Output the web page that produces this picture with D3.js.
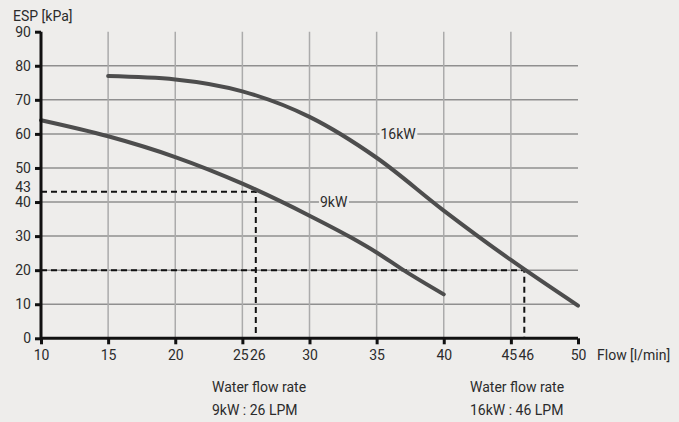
<!DOCTYPE html>
<html>
<head>
<meta charset="utf-8">
<script src="https://cdn.jsdelivr.net/npm/d3@7"></script>
<style>
  html, body { margin: 0; padding: 0; background: #eeedeb; }
  svg { display: block; font-family: Roboto, "Noto Sans", sans-serif; }
</style>
</head>
<body>
<svg id="chart" width="679" height="422"></svg>
<script>
// Pump curves: external static pressure vs. water flow
const flow9kW  = [10, 15, 20, 25, 30, 33, 35, 37, 40];
const esp9kW   = [64, 59.3, 53.2, 45.4, 36, 29.8, 25.2, 20, 12.9];
const flow16kW = [15, 20, 25, 30, 35, 40, 45, 50];
const esp16kW  = [77, 76, 72.5, 65, 53, 37.5, 23, 9.6];

const xTicks = [10, 15, 20, 25, 30, 35, 40, 45, 50];
const yTicks = [0, 10, 20, 30, 40, 50, 60, 70, 80, 90];
const xGrid  = [15, 20, 25, 30, 35, 40, 45];
const yGrid  = [10, 20, 30, 40, 50, 60, 70, 80];

// Rated operating points
const ratedFlow = [26, 46];
const ratedEsp  = [43, 20];
const ratedLabels = ["9kW : 26 LPM", "16kW : 46 LPM"];
const seriesNames = ["9kW", "16kW"];
const seriesLabelAt = [[31.8, 40], [36.6, 60]];

const svg = d3.select("#chart");
const x = d3.scaleLinear().domain([10, 50]).range([41, 578]);
const y = d3.scaleLinear().domain([0, 90]).range([338.3, 31.7]);

const textColor = "#2b2b2b";
const bg = "#eeedeb";

// grid
svg.append("g").selectAll("line").data(yGrid).join("line")
  .attr("x1", x(10)).attr("x2", x(50))
  .attr("y1", d => y(d)).attr("y2", d => y(d))
  .attr("stroke", "#8f8f8f").attr("stroke-width", 1.5);
svg.append("g").selectAll("line").data(xGrid).join("line")
  .attr("x1", d => x(d)).attr("x2", d => x(d))
  .attr("y1", y(0)).attr("y2", y(90))
  .attr("stroke", "#ababab").attr("stroke-width", 1.5);

// dashed guides to rated points
const guides = svg.append("g").attr("stroke", "#111").attr("stroke-width", 2)
  .attr("stroke-dasharray", "6,4").attr("fill", "none");
ratedFlow.forEach((f, i) => {
  guides.append("path")
    .attr("d", `M${x(10)},${y(ratedEsp[i])}H${x(f)}V${y(0)}`);
});

// curves
const line = d3.line().x(d => x(d[0])).y(d => y(d[1])).curve(d3.curveMonotoneX);
const curves = [d3.zip(flow9kW, esp9kW), d3.zip(flow16kW, esp16kW)];
svg.append("g").selectAll("path").data(curves).join("path")
  .attr("d", line).attr("fill", "none")
  .attr("stroke", "#4d4d4d").attr("stroke-width", 4).attr("stroke-linecap", "round");

// series labels on the grid lines
seriesNames.forEach((name, i) => {
  const [fx, fy] = seriesLabelAt[i];
  const t = svg.append("text").attr("x", x(fx)).attr("y", y(fy))
    .attr("dy", "0.36em").attr("text-anchor", "middle")
    .attr("font-size", 14).attr("fill", textColor).text(name);
  const bb = t.node().getBBox();
  svg.insert("rect", "text").attr("x", bb.x - 1).attr("y", y(fy) - 2)
    .attr("width", bb.width + 2).attr("height", 4).attr("fill", bg);
});

// axes
const xAxis = svg.append("g").attr("transform", `translate(0,${y(0)})`)
  .call(d3.axisBottom(x).tickValues(xTicks).tickSize(6).tickPadding(6).tickFormat(d3.format("d")));
const yAxis = svg.append("g").attr("transform", `translate(${x(10)},0)`)
  .call(d3.axisLeft(y).tickValues(yTicks).tickSize(6).tickPadding(4).tickFormat(d3.format("d")));
[xAxis, yAxis].forEach(a => {
  a.select(".domain").attr("stroke", "#111").attr("stroke-width", 3);
  a.selectAll(".tick line").attr("stroke", "#111").attr("stroke-width", 3);
  a.selectAll(".tick text").attr("font-size", 14).attr("fill", textColor)
    .attr("font-family", "Roboto, 'Noto Sans', sans-serif");
});
xAxis.select(".domain").attr("d", `M${x(10)},0H${x(50)}`);
yAxis.select(".domain").attr("d", `M0,${y(0)}V${y(90)}`);
// nudge the 25 / 45 labels left so they sit beside the rated-flow labels
xAxis.selectAll(".tick text").filter(d => d === 25 || d === 45).attr("dx", -2);

// extra tick labels for the rated values (no tick marks)
ratedFlow.forEach(f => {
  svg.append("text").attr("x", x(f) + 2).attr("y", y(0) + 22)
    .attr("text-anchor", "middle").attr("font-size", 14).attr("fill", textColor).text(f);
});
svg.append("text").attr("x", x(10) - 10).attr("y", y(ratedEsp[0]) - 4)
  .attr("dy", "0.32em").attr("text-anchor", "end").attr("font-size", 14)
  .attr("fill", textColor).text(ratedEsp[0]);

// axis titles
svg.append("text").attr("x", 13).attr("y", 21).attr("font-size", 14)
  .attr("fill", textColor).text("ESP [kPa]");
svg.append("text").attr("x", 597).attr("y", y(0) + 22).attr("font-size", 14)
  .attr("fill", textColor).text("Flow [l/min]");

// rated flow notes
ratedFlow.forEach((f, i) => {
  const left = [212, 470][i];
  svg.append("text").attr("x", left).attr("y", 392).attr("font-size", 14)
    .attr("fill", textColor).text("Water flow rate");
  svg.append("text").attr("x", left).attr("y", 415).attr("font-size", 14)
    .attr("fill", textColor).text(ratedLabels[i]);
});
</script>
</body>
</html>
